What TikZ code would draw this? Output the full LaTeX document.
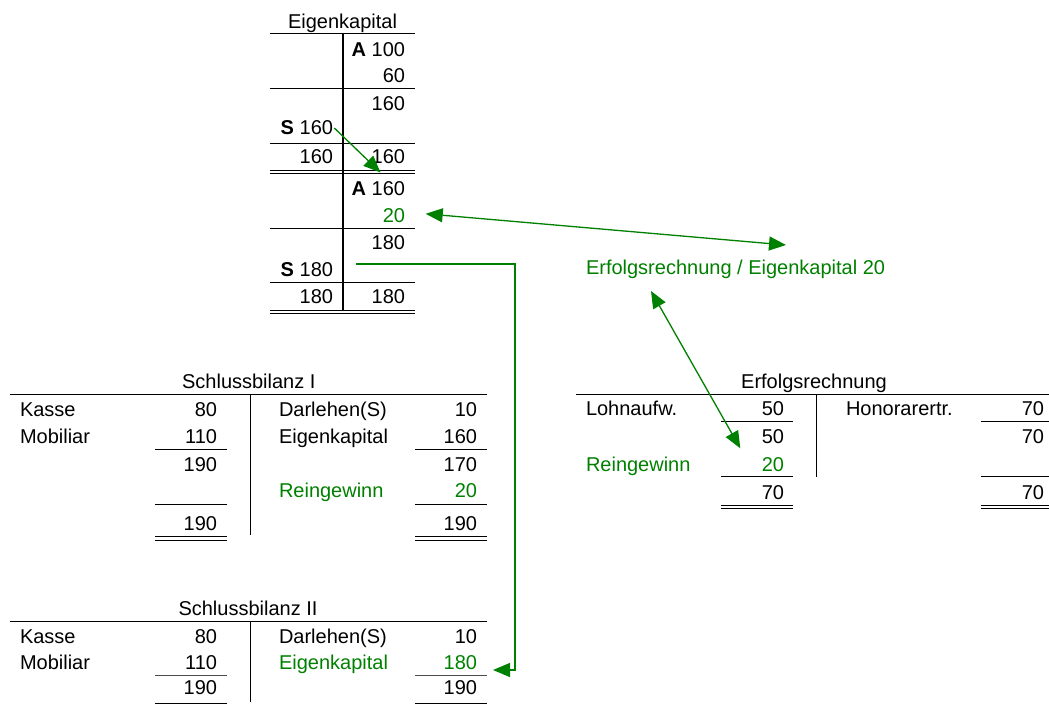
\documentclass[tikz,border=0pt]{standalone}
\usepackage{fontspec}
\setmainfont{Liberation Sans}
\usetikzlibrary{arrows.meta}
\definecolor{eg}{RGB}{0,128,0}
\newcommand\fsz{\fontsize{20}{24}\selectfont}
\begin{document}
\begin{tikzpicture}[x=1pt,y=-1pt,
  every node/.style={font=\fsz, inner sep=0pt, outer sep=0pt},
  num/.style={anchor=base east},
  lbl/.style={anchor=base west},
  ttl/.style={anchor=base},
  grn/.style={text=eg},
  rule/.style={line width=1.2pt},
  sub/.style={line width=1pt},
  dbl/.style={line width=0.8pt},
  arr/.style={draw=eg, line width=1.3pt, -{Triangle[length=17pt,width=14pt]}},
  arrb/.style={draw=eg, line width=1.3pt, {Triangle[length=17pt,width=14pt]}-{Triangle[length=17pt,width=14pt]}}]
\useasboundingbox (0,0) rectangle (1049,705);

% ---------- Eigenkapital T-account ----------
\node[ttl] (ekt) at (342.5,28.5) {Eigenkapital};
\draw[rule] (270,33.3) -- (415,33.3);
\draw[rule] (343,33.3) -- (343,310);
\node[num] (ek1r) at (405,56.7) {\textbf{A} 100};
\node[num] (ek2r) at (405,82.8) {60};
\draw[sub] (270,88.3) -- (415,88.3);
\node[num] (ek3r) at (405,110.3) {160};
\node[num] (ek4l) at (333,134.8) {\textbf{S} 160};
\draw[sub] (270,143.3) -- (415,143.3);
\node[num] (ek5l) at (333,163.7) {160};
\node[num] (ek5r) at (405,163.7) {160};
\draw[dbl] (270,170) -- (415,170);
\draw[dbl] (270,173.5) -- (415,173.5);
\node[num] (ek6r) at (405,195.8) {\textbf{A} 160};
\node[num,grn] (ek7r) at (405,222.5) {20};
\draw[sub] (270,228.3) -- (415,228.3);
\node[num] (ek8r) at (405,249.2) {180};
\node[num] (ek9l) at (333,276.7) {\textbf{S} 180};
\draw[sub] (270,282.3) -- (415,282.3);
\node[num] (ek10l) at (333,303) {180};
\node[num] (ek10r) at (405,303) {180};
\draw[dbl] (270,310) -- (415,310);
\draw[dbl] (270,313.5) -- (415,313.5);

% ---------- Buchungssatz ----------
\node[lbl,grn] (bs) at (586,274.3) {Erfolgsrechnung / Eigenkapital 20};

% ---------- Schlussbilanz I ----------
\node[ttl] (s1t) at (248.8,388.3) {Schlussbilanz I};
\draw[rule] (10,394.3) -- (487,394.3);
\draw[sub] (250,394.3) -- (250,535);
\node[lbl] (s1a1) at (20,416) {Kasse};
\node[num] (s1a1v) at (217,416) {80};
\node[lbl] (s1p1) at (279,416) {Darlehen(S)};
\node[num] (s1p1v) at (477,416) {10};
\node[lbl] (s1a2) at (20,443.3) {Mobiliar};
\node[num] (s1a2v) at (217,443.3) {110};
\node[lbl] (s1p2) at (279,443.3) {Eigenkapital};
\node[num] (s1p2v) at (477,443.3) {160};
\draw[sub] (155,449.3) -- (227,449.3);
\draw[sub] (415,449.3) -- (487,449.3);
\node[num] (s1a3v) at (217,471) {190};
\node[num] (s1p3v) at (477,471) {170};
\node[lbl,grn] (s1p4) at (279,497.7) {Reingewinn};
\node[num,grn] (s1p4v) at (477,497.7) {20};
\draw[sub] (155,504.3) -- (227,504.3);
\draw[sub] (415,504.3) -- (487,504.3);
\node[num] (s1a5v) at (217,530) {190};
\node[num] (s1p5v) at (477,530) {190};
\draw[dbl] (155,536.7) -- (227,536.7);
\draw[dbl] (155,540.5) -- (227,540.5);
\draw[dbl] (415,536.7) -- (487,536.7);
\draw[dbl] (415,540.5) -- (487,540.5);

% ---------- Erfolgsrechnung ----------
\node[ttl] (ert) at (814,388.3) {Erfolgsrechnung};
\draw[rule] (576,394.3) -- (1049,394.3);
\draw[sub] (816.7,394.3) -- (816.7,476.7);
\node[lbl] (er1) at (586,415.7) {Lohnaufw.};
\node[num] (er1v) at (784,415.7) {50};
\node[lbl] (er1r) at (846,415.7) {Honorarertr.};
\node[num] (er1rv) at (1044,415.7) {70};
\draw[sub] (721,421.7) -- (793,421.7);
\draw[sub] (981,421.7) -- (1049,421.7);
\node[num] (er2v) at (784,443.3) {50};
\node[num] (er2rv) at (1044,443.3) {70};
\node[lbl,grn] (er3) at (586,471.7) {Reingewinn};
\node[num,grn] (er3v) at (784,471.7) {20};
\draw[sub] (721,476.7) -- (793,476.7);
\draw[sub] (981,476.7) -- (1049,476.7);
\node[num] (er4v) at (784,499) {70};
\node[num] (er4rv) at (1044,499) {70};
\draw[dbl] (721,505) -- (793,505);
\draw[dbl] (721,508.5) -- (793,508.5);
\draw[dbl] (981,505) -- (1049,505);
\draw[dbl] (981,508.5) -- (1049,508.5);

% ---------- Schlussbilanz II ----------
\node[ttl] (s2t) at (248,615) {Schlussbilanz II};
\draw[rule] (10,621.5) -- (487,621.5);
\draw[sub] (250,621.5) -- (250,702);
\node[lbl] (s2a1) at (20,643) {Kasse};
\node[num] (s2a1v) at (217,643) {80};
\node[lbl] (s2p1) at (279,643) {Darlehen(S)};
\node[num] (s2p1v) at (477,643) {10};
\node[lbl] (s2a2) at (20,669) {Mobiliar};
\node[num] (s2a2v) at (217,669) {110};
\node[lbl,grn] (s2p2) at (279,669) {Eigenkapital};
\node[num,grn] (s2p2v) at (477,669) {180};
\draw[sub,black!70] (155,675) -- (227,675);
\draw[sub,black!70] (415,675) -- (487,675);
\node[num] (s2a3v) at (217,694) {190};
\node[num] (s2p3v) at (477,694) {190};
\draw[line width=1.8pt] (155,703.5) -- (227,703.5);
\draw[line width=1.8pt] (415,703.5) -- (487,703.5);

% ---------- connectors ----------
\coordinate (c1s) at (334.3,128);
\coordinate (c1e) at (380.5,172.5);
\draw[arr] (c1s) -- (c1e);

\coordinate (c2a) at (425.7,213.8);
\coordinate (c2b) at (786,245);
\draw[arrb] (c2a) -- (c2b);

\coordinate (c3a) at (651,291);
\coordinate (c3b) at (740.3,448.3);
\draw[arrb] (c3a) -- (c3b);

\coordinate (c4s) at (356,264);
\coordinate (c4v) at (515,450);
\coordinate (c4e) at (493,670);
\draw[arr] (c4s) -| (c4v) |- (c4e);
\end{tikzpicture}
\end{document}
